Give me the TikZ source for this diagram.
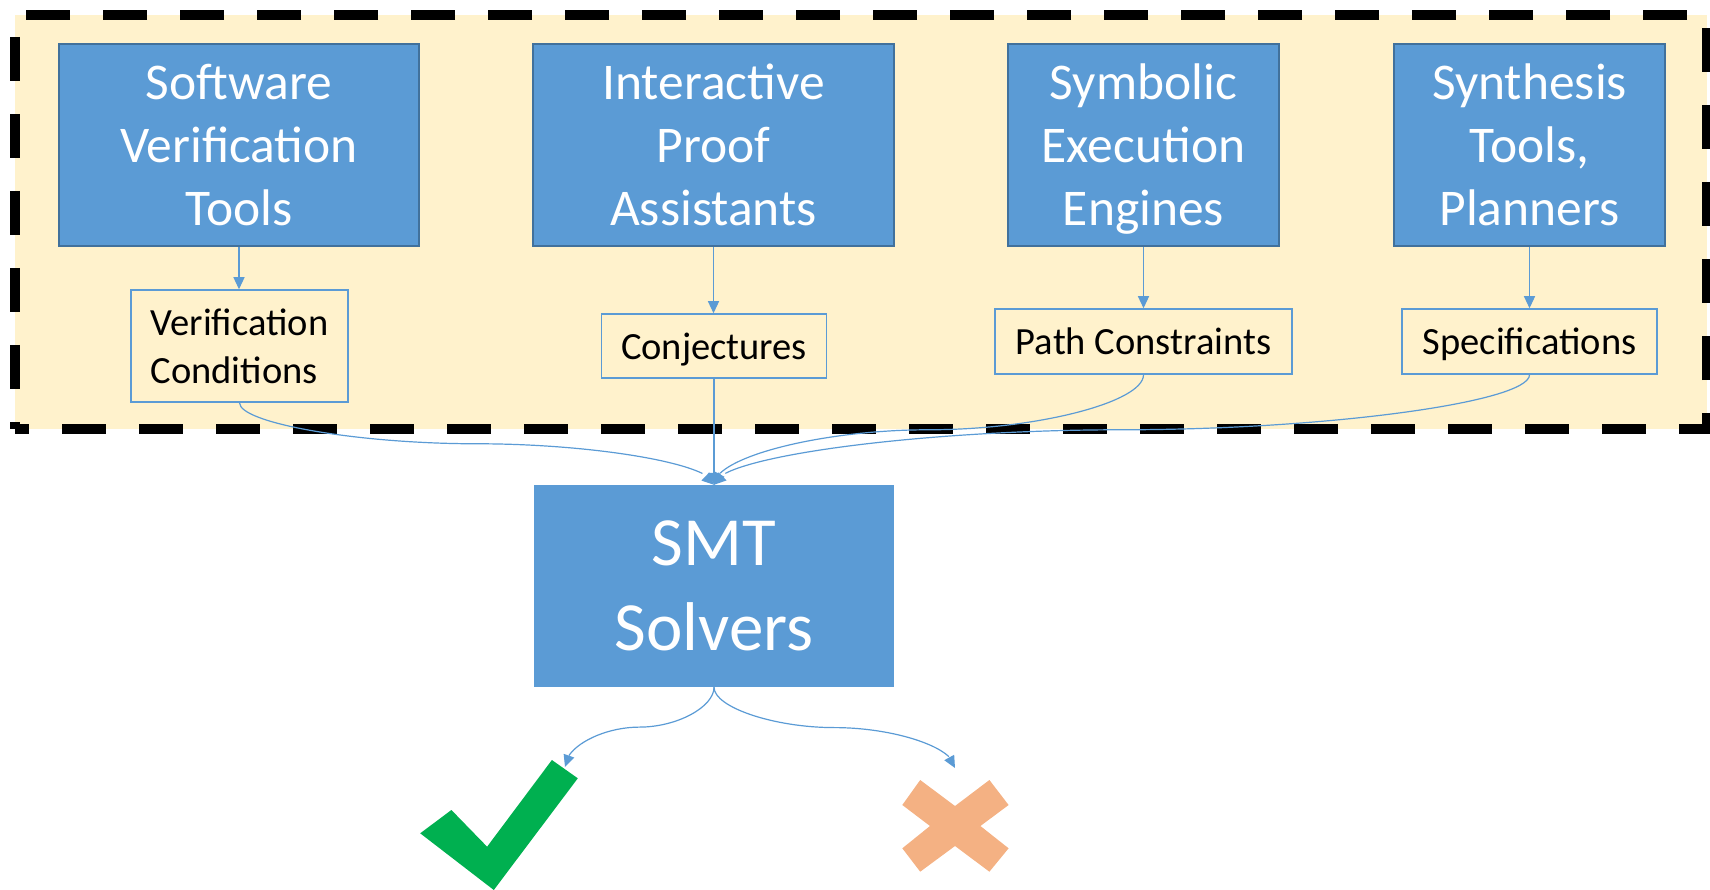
\documentclass[tikz,border=0pt]{standalone}
\usepackage{fontspec}
\setmainfont{Carlito}
\usetikzlibrary{arrows.meta,bending,calc}
\definecolor{boxblue}{HTML}{5B9BD5}
\definecolor{boxedge}{HTML}{41719C}
\definecolor{paleyellow}{HTML}{FFF2CC}
\definecolor{okgreen}{HTML}{00B050}
\definecolor{nopeach}{HTML}{F4B183}
% Office-style curved connector (vertical - horizontal - vertical)
\newcommand\offcurve[2]{%
  \path ($(#1)!0.5!(#2)$) coordinate (oc-m)
        ($(#1)!0.25!(#2)$) coordinate (oc-a)
        ($(#1)!0.75!(#2)$) coordinate (oc-b);
  \draw[conn] (#1) .. controls (oc-a -| #1) and (oc-a |- oc-m) .. (oc-m)
    .. controls (oc-b |- oc-m) and (oc-b -| #2) .. (#2);
}
\begin{document}
\begin{tikzpicture}[x=1pt,y=-1pt,
  tool/.style={draw=boxedge, line width=2pt, fill=boxblue, text=white, align=center, inner sep=0pt,
    minimum height=202pt, text depth=0pt, font=\fontsize{51.5}{63}\selectfont},
  artifact/.style={draw=boxblue, line width=1.5pt, inner sep=0pt, text depth=0pt,
    font=\fontsize{38.5}{48}\selectfont},
  conn/.style={draw=boxblue, line width=1.2pt, -{Triangle[length=12pt,width=11pt,flex]}},
  groupbox/.style={draw=black, line width=10pt, dash pattern=on 44pt off 33pt, dash phase=30pt,
    fill=paleyellow, inner sep=0pt},
]
\useasboundingbox (0,0) rectangle (1710,890);
\node[groupbox, minimum width=1692pt, minimum height=414pt] (group) at (861,222) {};

\node[tool, minimum width=360pt] (svt) at (239,145) {Software\\Verification\\Tools};
\node[tool, minimum width=361pt] (ipa) at (713.5,145) {Interactive\\Proof\\Assistants};
\node[tool, minimum width=271pt] (see) at (1143.5,145) {Symbolic\\Execution\\Engines};
\node[tool, minimum width=271pt] (stp) at (1529.5,145) {Synthesis\\Tools,\\Planners};

\node[artifact, align=left, minimum width=217pt, minimum height=112pt] (vc) at (239.5,346) {Verification\\Conditions};
\node[artifact, minimum width=225pt, minimum height=64pt] (cj) at (714,346) {Conjectures};
\node[artifact, minimum width=297pt, minimum height=65pt] (pc) at (1143.5,341.5) {Path Constraints};
\node[artifact, minimum width=255pt, minimum height=65pt] (sp) at (1529.5,341.5) {Specifications};

\node[fill=boxblue, text=white, align=center, inner sep=0pt, minimum width=360pt, minimum height=202pt,
  text depth=-6pt, font=\fontsize{69}{85}\selectfont] (smt) at (714,586) {SMT\\Solvers};

\coordinate (chk) at (565,767);
\coordinate (crs) at (955,768);

\draw[conn] (svt.south) -- (svt.south |- vc.north);
\draw[conn] (ipa.south) -- (ipa.south |- cj.north);
\draw[conn] (see.south) -- (see.south |- pc.north);
\draw[conn] (stp.south) -- (stp.south |- sp.north);

\offcurve{vc.south}{smt.north}
\draw[conn] (cj.south) -- (smt.north);
\offcurve{pc.south}{smt.north}
\offcurve{sp.south}{smt.north}

\offcurve{smt.south}{chk}
\offcurve{smt.south}{crs}

\fill[okgreen] (420.2,833.3) -- (451.4,810) -- (487.1,846.7) -- (551.9,760) -- (577.8,778.3) -- (493.8,890) -- cycle;
\fill[nopeach] (902.3,805) -- (920.2,780) -- (955,806) -- (989.4,780) -- (1008.6,805) -- (980.4,826)
  -- (1008.6,848.3) -- (989.4,871.7) -- (955,846) -- (920.2,871.7) -- (902.3,848.3) -- (930,826) -- cycle;
\end{tikzpicture}
\end{document}
